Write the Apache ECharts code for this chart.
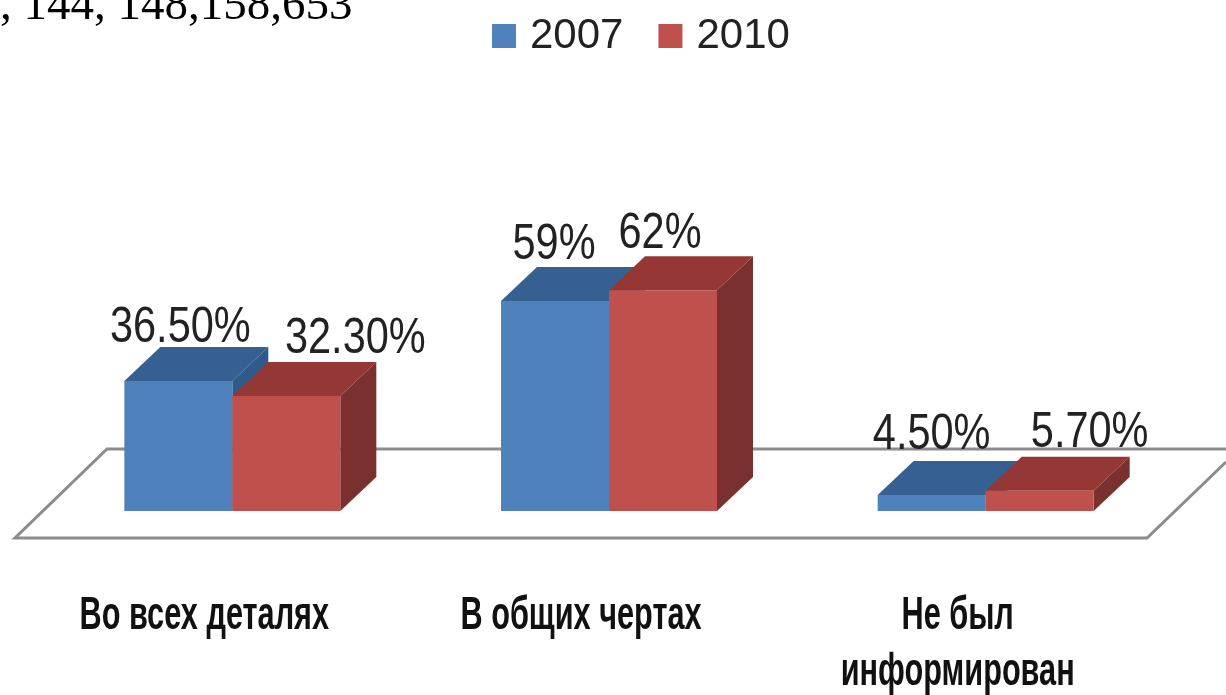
<!DOCTYPE html>
<html>
<head>
<meta charset="utf-8">
<script src="https://cdn.jsdelivr.net/npm/echarts@6/dist/echarts.min.js"></script>
<style>
html,body{margin:0;padding:0;background:#fff;overflow:hidden}
#chart{width:1226px;height:695px}
</style>
</head>
<body>
<div id="chart"></div>
<script>
var categories = ['Во всех деталях', 'В общих чертах', 'Не был\nинформирован'];
var years = ['2007', '2010'];
var values2007 = [36.5, 59, 4.5];
var values2010 = [32.3, 62, 5.7];
var labels2007 = ['36.50%', '59%', '4.50%'];
var labels2010 = ['32.30%', '62%', '5.70%'];
var headText = ', 144, 148,158,653';

var sans = '"Liberation Sans", sans-serif';
var barW = 108, depthX = 36, depthY = 34;

// сдвиг подписей относительно верхнего края столбика
var labelShift2007 = [[2, 6], [-1, 3], [0, -1]];
var labelShift2010 = [[69, 2], [-3, 3], [50, 2]];

function box(side, labels, shift, front, top, right) {
    return function (params, api) {
        var i = api.value(0);
        var p = api.coord([i, api.value(1)]);
        var base = api.coord([i, 0]);
        var x0 = side < 0 ? p[0] - barW : p[0];
        var x1 = x0 + barW;
        var y = p[1], b = base[1];
        return {
            type: 'group',
            children: [
                {type: 'polygon', shape: {points: [[x1, y], [x1 + depthX, y - depthY], [x1 + depthX, b - depthY], [x1, b]]}, style: {fill: right}},
                {type: 'polygon', shape: {points: [[x0, y], [x0 + depthX, y - depthY], [x1 + depthX, y - depthY], [x1, y]]}, style: {fill: top}},
                {type: 'rect', shape: {x: x0, y: y, width: barW, height: b - y}, style: {fill: front}},
                {type: 'text', z2: 10, x: (x0 + x1) / 2 + shift[i][0], y: y - depthY + shift[i][1], scaleX: 0.83, style: {
                    text: labels[i], align: 'center', verticalAlign: 'bottom',
                    font: '50px ' + sans, fill: '#222'
                }}
            ]
        };
    };
}

// подписи категорий, сжатые по ширине
function catLabel(params, api) {
    var i = api.value(0);
    var p = api.coord([i, 0]);
    return {
        type: 'text', x: p[0] - 28, y: p[1] + 77, scaleX: 0.667,
        style: {
            text: categories[i], align: 'center', verticalAlign: 'top',
            font: 'bold 46px ' + sans, lineHeight: 56, fill: '#111'
        }
    };
}

function rows(vals) {
    return vals.map(function (v, i) { return [i, v]; });
}

var myChart = echarts.init(document.getElementById('chart'));
myChart.setOption({
    animation: false,
    backgroundColor: '#fff',
    legend: {
        data: years, left: 492, top: 15, padding: 0, itemWidth: 24, itemHeight: 24, itemGap: 35,
        icon: 'rect',
        textStyle: {fontFamily: sans, fontSize: 42, color: '#222', padding: [0, 0, 0, 9]}
    },
    grid: {left: 44, width: 1130, top: 155, height: 356, outerBoundsMode: 'none'},
    xAxis: {
        type: 'category',
        data: categories,
        axisLine: {show: false}, axisTick: {show: false}, axisLabel: {show: false}
    },
    yAxis: {type: 'value', min: 0, max: 100, show: false},
    graphic: [
        {type: 'polyline', z: 0, shape: {points: [[1226, 449], [107, 449], [15, 538], [1147, 538], [1226, 462]]},
            style: {stroke: '#8c8c8c', lineWidth: 3, fill: null}},
        {type: 'text', z: 5, style: {x: 0, y: 30, text: headText, verticalAlign: 'bottom', font: '47px "Liberation Serif", serif', fill: '#000'}}
    ],
    series: [
        {name: years[0], type: 'custom', data: rows(values2007), itemStyle: {color: '#4F81BD'},
            renderItem: box(-1, labels2007, labelShift2007, '#4F81BD', '#376092', '#2F5A8A')},
        {name: years[1], type: 'custom', data: rows(values2010), itemStyle: {color: '#C0504D'},
            renderItem: box(1, labels2010, labelShift2010, '#C0504D', '#953735', '#7A302E')},
        {name: 'categories', type: 'custom', data: rows([0, 0, 0]), renderItem: catLabel, silent: true}
    ]
});
</script>
</body>
</html>
